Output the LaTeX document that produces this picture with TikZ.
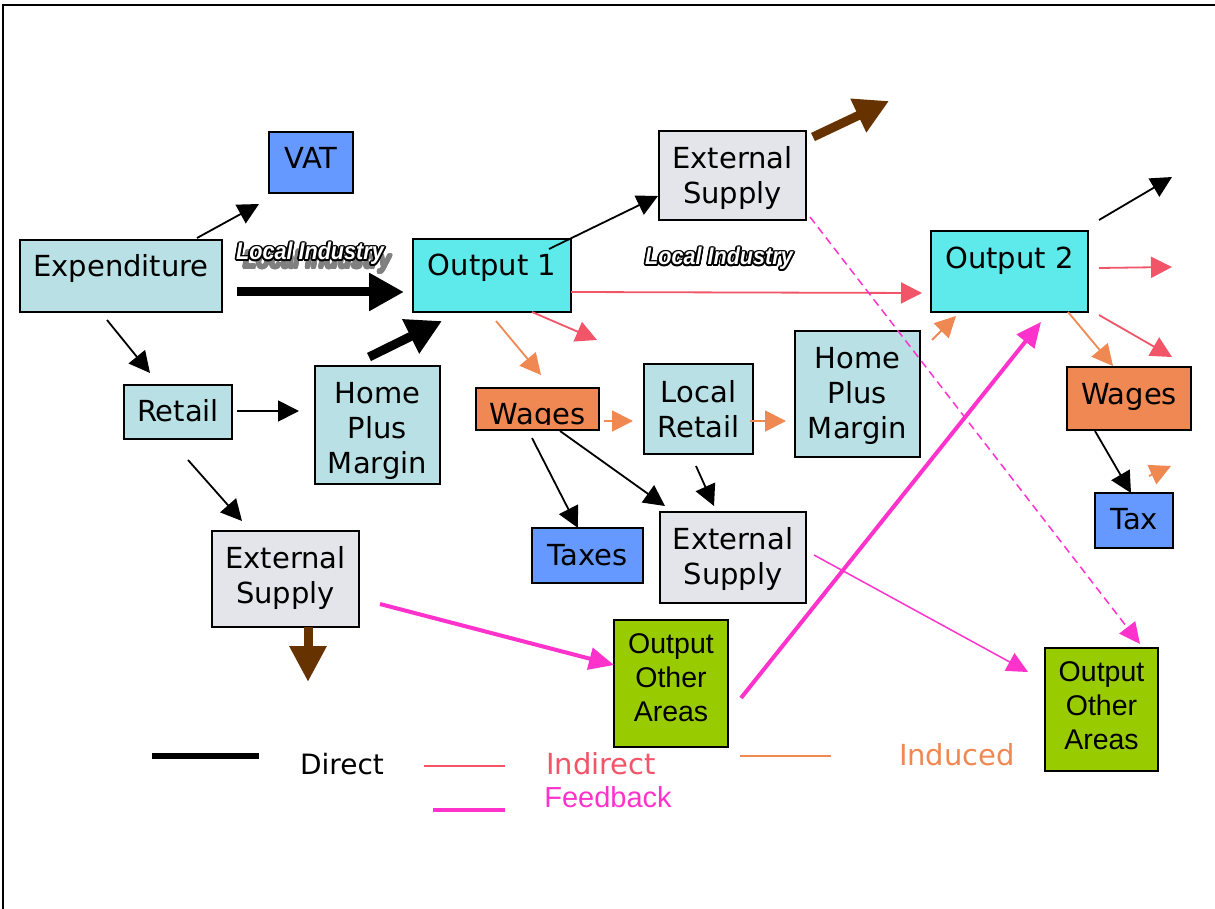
\documentclass[tikz,border=0pt]{standalone}
\usepackage{fontspec}
\usepackage{graphicx}
\setmainfont{DejaVu Sans}
\newfontfamily\arialf{Liberation Sans}
\usetikzlibrary{arrows.meta,calc}
\definecolor{tealbox}{RGB}{185,224,228}
\definecolor{cyanbox}{RGB}{94,234,234}
\definecolor{graybox}{RGB}{227,229,234}
\definecolor{bluebox}{RGB}{102,153,255}
\definecolor{orangebox}{RGB}{239,136,82}
\definecolor{greenbox}{RGB}{153,204,0}
\definecolor{indirect}{RGB}{242,84,104}
\definecolor{induced}{RGB}{240,136,82}
\definecolor{feedback}{RGB}{255,51,204}
\definecolor{brownarr}{RGB}{102,51,0}
\definecolor{shadowgray}{RGB}{128,128,128}
\newcommand{\litext}{\scalebox{0.9}[1]{\arialf\bfseries\itshape\fontsize{24}{28}\selectfont Local Industry}}
\tikzset{
  box/.style={draw=black, line width=1.6pt, inner sep=0pt},
  txt/.style={font=\fontsize{29}{35}\selectfont, align=center, inner sep=0pt},
  atxt/.style={font=\arialf\fontsize{28.5}{34}\selectfont, align=center, inner sep=0pt},
  thinarrow/.style={line width=1.8pt, -{Triangle[length=21pt,width=21pt]}},
  heavyarrow/.style={line width=9pt, -{Triangle[length=35pt,width=36pt]}},
  feedthick/.style={draw=feedback, line width=4pt, -{Triangle[length=25pt,width=22pt]}},
  feedthin/.style={draw=feedback, line width=1.5pt, -{Triangle[length=21pt,width=20pt]}},
  feeddash/.style={draw=feedback, line width=1.5pt, dash pattern=on 8pt off 5pt, -{Triangle[length=21pt,width=20pt]}},
  litxt/.style={anchor=base, inner sep=0pt},
  legtxt/.style={font=\fontsize{29}{35}\selectfont, inner sep=0pt},
}
\begin{document}
\begin{tikzpicture}[x=1pt,y=-1pt]
\useasboundingbox (0,0) rectangle (1215,909);
% frame
\draw[line width=2pt] (3,909) -- (3,5) -- (1215,5);

% boxes
\node[box, fill=bluebox, minimum width=84, minimum height=61, label={[txt,yshift=5pt]center:VAT}] (vat) at (311,162.5) {};
\node[box, fill=tealbox, minimum width=202, minimum height=72, label={[txt,yshift=7.6pt]center:Expenditure}] (exp) at (121,276) {};
\node[box, fill=cyanbox, minimum width=158, minimum height=73, label={[txt,yshift=8pt]center:Output 1}] (out1) at (492,275.5) {};
\node[box, fill=graybox, minimum width=147, minimum height=89, label={[txt,yshift=-2.4pt]center:{External\\Supply}}] (exttop) at (732.5,175.5) {};
\node[box, fill=cyanbox, minimum width=157, minimum height=81, label={[txt,yshift=10.6pt]center:Output 2}] (out2) at (1009.5,271.5) {};
\node[box, fill=tealbox, minimum width=108, minimum height=54, label={[txt,yshift=1pt]center:Retail}] (retail) at (178,412) {};
\node[box, fill=tealbox, minimum width=125, minimum height=118, label={[txt,yshift=-6pt]center:{Home\\Plus\\Margin}}] (hpm1) at (377.5,425) {};
\node[box, fill=orangebox, minimum width=123, minimum height=42] (wages1) at (537.5,409) {};
\begin{scope}
  \clip (477,389) rectangle (598,424.5);
  \node[txt, anchor=base] (wages1T) at (537.5,424) {Wages};
\end{scope}
\node[box, fill=tealbox, minimum width=109, minimum height=90, label={[txt]center:{Local\\Retail}}] (lretail) at (698.5,409) {};
\node[box, fill=tealbox, minimum width=125, minimum height=126, label={[txt,yshift=-2pt]center:{Home\\Plus\\Margin}}] (hpm2) at (857.5,394) {};
\node[box, fill=orangebox, minimum width=124, minimum height=63, label={[txt,yshift=1.6pt]center:Wages}] (wages2) at (1129,398.5) {};
\node[box, fill=bluebox, minimum width=78, minimum height=55, label={[txt,yshift=1pt]center:Tax}] (tax) at (1134,520.5) {};
\node[box, fill=bluebox, minimum width=111, minimum height=55, label={[txt,yshift=0.5pt]center:Taxes}] (taxes) at (587.5,555.5) {};
\node[box, fill=graybox, minimum width=146, minimum height=91, label={[txt,yshift=-1.4pt]center:{External\\Supply}}] (extmid) at (733,557.5) {};
\node[box, fill=graybox, minimum width=147, minimum height=96, label={[txt,yshift=0.6pt]center:{External\\Supply}}] (extleft) at (285.5,579) {};
\node[box, fill=greenbox, minimum width=114, minimum height=127, label={[atxt,yshift=5.5pt]center:{Output\\Other\\Areas}}] (ooa1) at (671,683.5) {};
\node[box, fill=greenbox, minimum width=113, minimum height=123, label={[atxt,yshift=4pt]center:{Output\\Other\\Areas}}] (ooa2) at (1101.5,709.5) {};

% Local Industry labels (white letters, black outline; the first one with a grey shadow)
\coordinate (li1pos) at (310,260);
\foreach \a in {0,30,...,330} \node[litxt, text=shadowgray] at ($(li1pos)+(7,8)+(\a:1.2)$) {\litext};
\foreach \a in {0,30,...,330} \node[litxt] at ($(li1pos)+(\a:1.8)$) {\litext};
\node[litxt, text=white] (li1) at (li1pos) {\litext};
\coordinate (li2pos) at (719,265);
\foreach \a in {0,30,...,330} \node[litxt] at ($(li2pos)+(\a:1.8)$) {\litext};
\node[litxt, text=white] (li2) at (li2pos) {\litext};

% arrow end points
\coordinate (b1s) at (197,238);  \coordinate (b1e) at (259,204);
\coordinate (b2s) at (107,320);  \coordinate (b2e) at (150,373);
\coordinate (b3s) at (237,411);  \coordinate (b3e) at (299,411);
\coordinate (b4s) at (188,460);  \coordinate (b4e) at (242,521);
\coordinate (b5s) at (549,249);  \coordinate (b5e) at (658,196);
\coordinate (b6s) at (532,438);  \coordinate (b6e) at (578,528);
\coordinate (b7s) at (560,431);  \coordinate (b7e) at (665,506);
\coordinate (b8s) at (696,466);  \coordinate (b8e) at (714,506);
\coordinate (b9s) at (1099,220); \coordinate (b9e) at (1172,177);
\coordinate (b10s) at (1095,431); \coordinate (b10e) at (1131,493);
\coordinate (r1s) at (532,312);  \coordinate (r1e) at (597,340);
\coordinate (r2s) at (571,292);  \coordinate (r2e) at (922,293);
\coordinate (r3s) at (1099,268); \coordinate (r3e) at (1172,267);
\coordinate (r4s) at (1099,315); \coordinate (r4e) at (1172,357);
\coordinate (o1s) at (496,321);  \coordinate (o1e) at (541,375);
\coordinate (o2s) at (604,421);  \coordinate (o2e) at (633,421);
\coordinate (o3s) at (750,421);  \coordinate (o3e) at (786,421);
\coordinate (o4s) at (932,340);  \coordinate (o4e) at (956,316);
\coordinate (o5s) at (1068,312); \coordinate (o5e) at (1113,366);
\coordinate (o6s) at (1149,476); \coordinate (o6e) at (1171,466);
\coordinate (h1s) at (237,292);  \coordinate (h1e) at (404,292);
\coordinate (h2s) at (369,357);  \coordinate (h2e) at (442,321);
\coordinate (br1s) at (813,137); \coordinate (br1e) at (889,101);
\coordinate (br2s) at (308,627); \coordinate (br2e) at (308,682);
\coordinate (p1s) at (380,604);  \coordinate (p1e) at (614,665);
\coordinate (p2s) at (741,698);  \coordinate (p2e) at (1041,322);
\coordinate (p3s) at (814,555);  \coordinate (p3e) at (1028,672);
\coordinate (p4s) at (810,217);  \coordinate (p4e) at (1140,644);

% direct (black)
\foreach \n in {b1,b2,b3,b4,b5,b6,b7,b8,b9,b10}
  \draw[thinarrow, draw=black, fill=black] (\n s) -- (\n e);
\draw[heavyarrow, draw=black, fill=black] (h1s) -- (h1e);
\draw[heavyarrow, draw=black, fill=black] (h2s) -- (h2e);
% leakage (brown)
\draw[line width=9pt, draw=brownarr, -{Triangle[length=34pt,width=35pt]}] (br1s) -- (br1e);
\draw[line width=9pt, draw=brownarr, -{Triangle[length=36pt,width=35pt]}] (br2s) -- (br2e);
% indirect
\foreach \n in {r1,r2,r3,r4}
  \draw[thinarrow, draw=indirect] (\n s) -- (\n e);
% induced
\foreach \n in {o1,o2,o3,o4,o5,o6}
  \draw[thinarrow, draw=induced] (\n s) -- (\n e);
% feedback
\draw[feedthick] (p1s) -- (p1e);
\draw[feedthick] (p2s) -- (p2e);
\draw[feedthin] (p3s) -- (p3e);
\draw[feeddash] (p4s) -- (p4e);

% legend
\coordinate (lg1s) at (152,756); \coordinate (lg1e) at (259,756);
\coordinate (lg2s) at (424,766); \coordinate (lg2e) at (505,766);
\coordinate (lg3s) at (433,810); \coordinate (lg3e) at (505,810);
\coordinate (lg4s) at (740,756); \coordinate (lg4e) at (831,756);
\draw[line width=6pt, black] (lg1s) -- (lg1e);
\draw[line width=2pt, indirect] (lg2s) -- (lg2e);
\draw[line width=4pt, feedback] (lg3s) -- (lg3e);
\draw[line width=2pt, induced] (lg4s) -- (lg4e);
\node[legtxt, font=\fontsize{28}{34}\selectfont] (legdirect) at (342,764) {Direct};
\node[legtxt, text=indirect] (legindirect) at (601,764) {Indirect};
\node[legtxt, font=\arialf\fontsize{29}{34}\selectfont, text=feedback] (legfeedback) at (608,797) {Feedback};
\node[legtxt, text=induced] (leginduced) at (957,755) {Induced};
\end{tikzpicture}
\end{document}
